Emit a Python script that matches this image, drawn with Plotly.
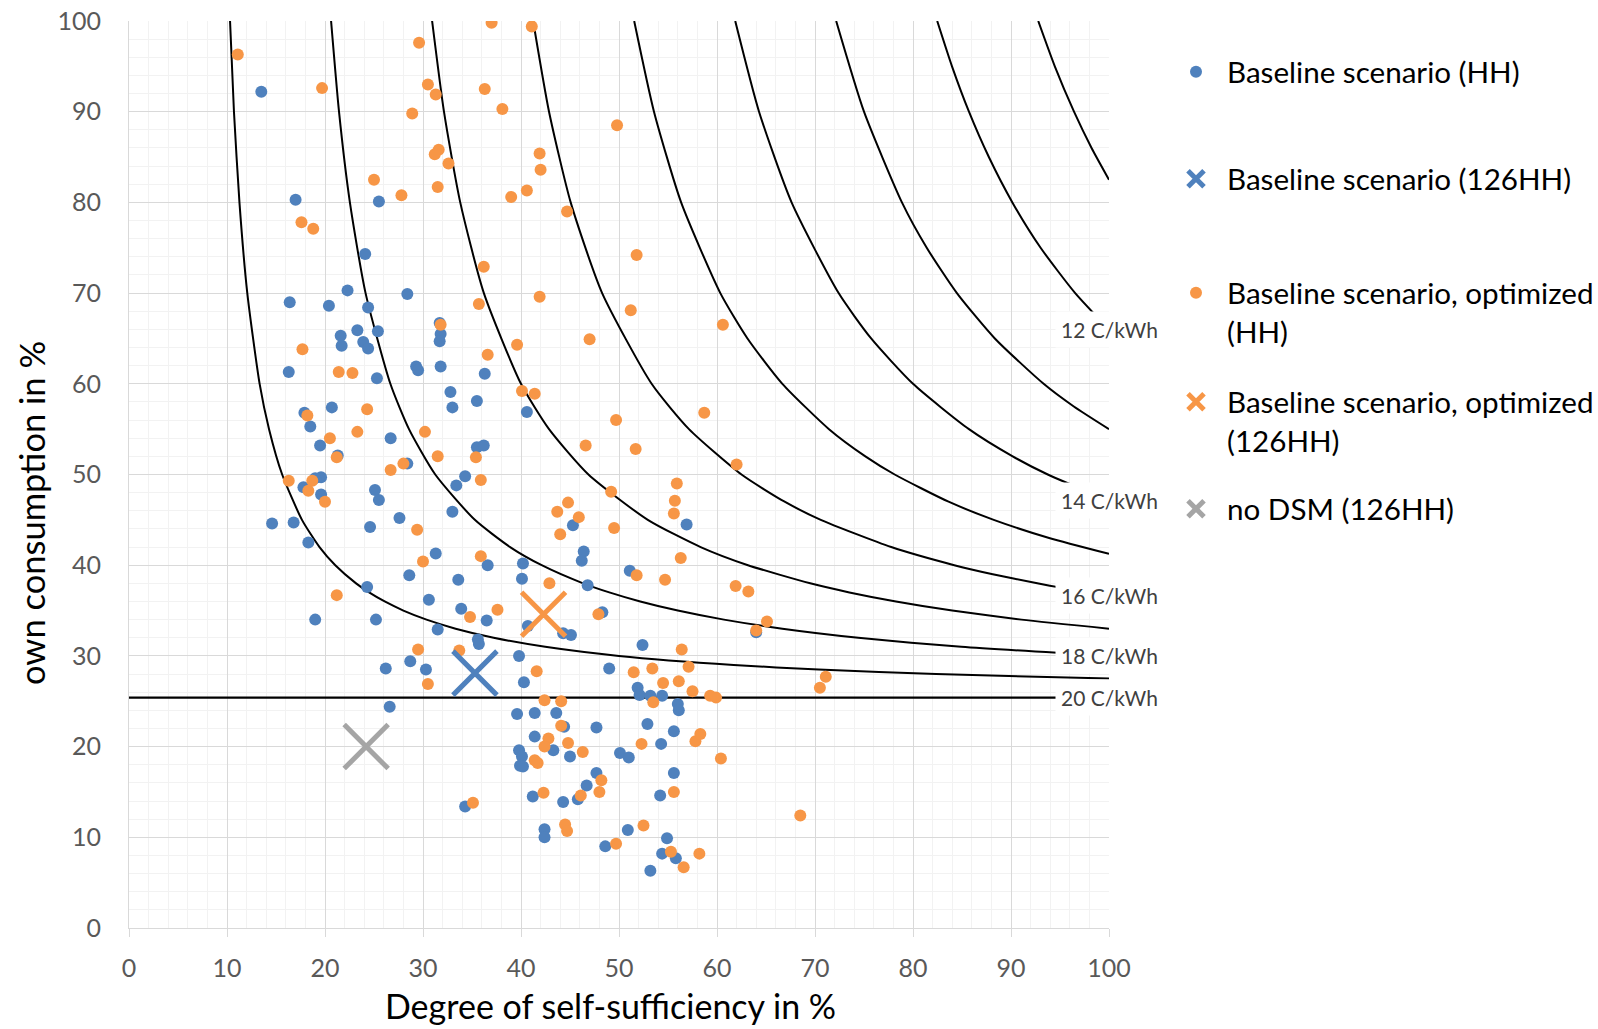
import plotly.graph_objects as go

# ---------------- data ----------------
# Baseline scenario (HH)  -- blue dots
base_hh_x = [13.5, 17.0, 25.5, 24.1, 22.3, 16.4, 28.4,
             20.4, 24.4, 21.6, 21.7, 23.3, 25.4, 23.9, 24.4, 31.7, 31.8, 31.7,
             16.3, 25.3, 29.3, 29.5, 31.8, 20.7, 17.9, 18.5, 26.7, 19.5, 21.3,
             28.4, 17.8, 19.6, 19.0, 19.6, 25.1, 25.5, 14.6, 16.8, 24.6, 27.6,
             18.3, 31.3,
             36.3, 32.8, 35.5, 33.0, 40.6, 35.5, 36.2, 34.3, 33.4, 33.0, 45.3,
             56.9, 46.4, 46.2, 36.6, 40.2,
             51.1, 33.6, 40.1, 46.8, 30.6, 33.9, 36.5, 31.5, 35.6, 35.7, 40.7,
             44.3, 45.1, 48.3, 52.4, 39.8, 30.3, 40.3, 49.0, 51.9, 52.1, 53.2,
             54.4, 56.0, 56.1, 39.6, 41.4, 43.6, 44.4, 47.7, 52.9, 55.6, 41.4,
             43.3, 54.3, 39.8, 50.1, 51.0, 45.0,
             40.1, 39.9, 40.2, 47.7, 46.7, 45.8, 44.3, 41.2, 55.6, 54.2, 34.3,
             42.4, 42.4, 50.9, 48.6, 54.9, 54.4, 55.8, 53.2,
             28.6, 24.3, 19.0, 25.2, 28.7, 26.2, 26.6, 64.0]
base_hh_y = [92.2, 80.3, 80.1, 74.3, 70.3, 69.0, 69.9,
             68.6, 68.4, 65.3, 64.2, 65.9, 65.8, 64.6, 63.9, 66.7, 65.5, 64.7,
             61.3, 60.6, 61.9, 61.5, 61.9, 57.4, 56.8, 55.3, 54.0, 53.2, 52.1,
             51.2, 48.6, 49.7, 49.6, 47.8, 48.3, 47.2, 44.6, 44.7, 44.2, 45.2,
             42.5, 41.3,
             61.1, 59.1, 58.1, 57.4, 56.9, 53.0, 53.2, 49.8, 48.8, 45.9, 44.4,
             44.5, 41.5, 40.5, 40.0, 40.2,
             39.4, 38.4, 38.5, 37.8, 36.2, 35.2, 33.9, 32.9, 31.8, 31.3, 33.3,
             32.5, 32.3, 34.8, 31.2, 30.0, 28.5, 27.1, 28.6, 26.5, 25.7, 25.6,
             25.6, 24.7, 24.0, 23.6, 23.7, 23.7, 22.2, 22.1, 22.5, 21.7, 21.1,
             19.6, 20.3, 19.6, 19.3, 18.8, 18.9,
             18.9, 17.9, 17.8, 17.1, 15.7, 14.2, 13.9, 14.5, 17.1, 14.6, 13.4,
             10.9, 10.0, 10.8, 9.0, 9.9, 8.2, 7.7, 6.3,
             38.9, 37.6, 34.0, 34.0, 29.4, 28.6, 24.4, 32.6]

# Baseline scenario, optimized (HH) -- orange dots
opt_hh_x = [11.1, 19.7, 29.6, 37.0, 41.1, 30.5, 31.3, 36.3, 38.1, 28.9, 31.6,
            31.2, 32.6, 41.9, 42.0, 25.0, 27.8, 31.5, 39.0, 40.6, 44.7, 17.6,
            18.8, 36.2, 41.9, 35.7,
            49.8, 51.8, 51.2, 60.6,
            31.8, 17.7, 21.4, 22.8, 24.3, 18.2, 20.5, 23.3, 30.2, 21.2, 31.5,
            28.0, 26.7, 16.3, 18.7, 18.3, 20.0, 29.4, 30.0,
            39.6, 47.0, 36.6, 40.1, 41.4, 49.7, 58.7, 35.4, 46.6, 51.7, 62.0,
            35.9, 49.2, 55.9, 55.7, 55.6, 44.8, 43.7, 45.9, 44.0, 49.5, 35.9,
            56.3,
            42.9, 51.8, 54.7, 61.9, 34.8, 37.6, 47.9, 56.4, 33.7, 29.5, 30.5,
            41.6, 51.5, 53.4, 57.1, 56.1, 54.5, 57.5, 53.5, 59.3, 59.9, 42.4,
            44.1, 44.1, 42.8, 42.4, 44.8, 46.3, 52.3, 57.8, 58.3, 60.4,
            41.4, 41.7, 48.2, 48.0, 46.1, 42.3, 55.6, 35.1, 44.5, 44.7, 52.5,
            49.7, 55.3, 58.2, 56.6,
            21.2, 63.2, 65.1, 64.0, 71.1, 70.5, 68.5]
opt_hh_y = [96.3, 92.6, 97.6, 99.8, 99.4, 93.0, 91.9, 92.5, 90.3, 89.8, 85.8,
            85.3, 84.3, 85.4, 83.6, 82.5, 80.8, 81.7, 80.6, 81.3, 79.0, 77.8,
            77.1, 72.9, 69.6, 68.8,
            88.5, 74.2, 68.1, 66.5,
            66.5, 63.8, 61.3, 61.2, 57.2, 56.5, 54.0, 54.7, 54.7, 51.9, 52.0,
            51.2, 50.5, 49.3, 49.3, 48.2, 47.0, 43.9, 40.4,
            64.3, 64.9, 63.2, 59.2, 58.9, 56.0, 56.8, 51.9, 53.2, 52.8, 51.1,
            49.4, 48.1, 49.0, 47.1, 45.7, 46.9, 45.9, 45.3, 43.4, 44.1, 41.0,
            40.8,
            38.0, 38.9, 38.4, 37.7, 34.3, 35.1, 34.6, 30.7, 30.6, 30.7, 26.9,
            28.3, 28.2, 28.6, 28.8, 27.2, 27.0, 26.1, 24.9, 25.6, 25.4, 25.1,
            25.0, 22.3, 20.9, 20.0, 20.4, 19.4, 20.3, 20.6, 21.4, 18.7,
            18.5, 18.2, 16.3, 15.0, 14.6, 14.9, 15.0, 13.8, 11.4, 10.7, 11.3,
            9.3, 8.4, 8.2, 6.7,
            36.7, 37.1, 33.8, 32.8, 27.7, 26.5, 12.4]

# Aggregated results (126 households)
base_126_x, base_126_y = [35.3], [28.1]
opt_126_x, opt_126_y = [42.3], [34.6]
nodsm_126_x, nodsm_126_y = [24.2], [20.0]

# Iso-cost curves (C/kWh)
iso_19_x = [10.31, 10.71, 11.27, 12.07, 13.33, 14.29, 15.63, 17.65, 19.44, 21.05, 23.17,
            24.50, 26.09, 28.00, 30.36, 33.33, 37.21, 42.47, 50.00, 61.70, 70.37, 82.35, 100.0]
iso_19_y = [100, 90, 80, 70, 60, 55, 50, 45, 42, 40, 38, 37, 36, 35, 34, 33, 32, 31, 30,
            29, 28.5, 28, 27.5]
iso_18_x = [20.62, 21.43, 22.54, 24.14, 26.67, 28.57, 31.25, 35.29, 38.89, 42.11, 46.34,
            49.01, 52.17, 56.00, 60.71, 66.67, 74.42, 84.93, 100.0]
iso_18_y = [100, 90, 80, 70, 60, 55, 50, 45, 42, 40, 38, 37, 36, 35, 34, 33, 32, 31, 30]
iso_17_x = [30.93, 32.14, 33.80, 36.21, 40.00, 42.86, 46.88, 52.94, 58.33, 63.16, 69.51,
            73.51, 78.26, 84.00, 91.07, 100.0]
iso_17_y = [100, 90, 80, 70, 60, 55, 50, 45, 42, 40, 38, 37, 36, 35, 34, 33]
iso_16_x = [41.24, 42.86, 45.07, 48.28, 53.33, 57.14, 62.50, 66.90, 70.59, 77.78, 84.21,
            88.14, 92.68, 95.24, 100.0]
iso_16_y = [100, 90, 80, 70, 60, 55, 50, 47, 45, 42, 40, 39, 38, 37.5, 36.67]
iso_15_x = [51.55, 53.57, 56.34, 60.34, 63.11, 66.67, 71.43, 75.14, 78.13, 83.63, 88.24,
            93.89, 100.0]
iso_15_y = [100, 90, 80, 70, 65, 60, 55, 52, 50, 47, 45, 43, 41.25]
iso_14_x = [61.86, 64.29, 67.61, 72.41, 75.73, 80.00, 85.71, 90.17, 93.75, 100.0]
iso_14_y = [100, 90, 80, 70, 65, 60, 55, 52, 50, 47.14]
iso_13_x = [72.16, 75.00, 78.87, 81.40, 84.48, 88.35, 93.33, 96.41, 100.0]
iso_13_y = [100, 90, 80, 75, 70, 65, 60, 57.5, 55]
iso_12_x = [82.47, 83.98, 85.71, 87.74, 90.14, 93.02, 96.55, 100.0]
iso_12_y = [100, 95, 90, 85, 80, 75, 70, 66]
iso_11_x = [92.78, 94.47, 96.43, 98.22, 100.0]
iso_11_y = [100, 95, 90, 86, 82.5]
iso_20_x = [0, 100]
iso_20_y = [25.4, 25.4]

label_texts = ["12 C/kWh", "14 C/kWh", "16 C/kWh", "18 C/kWh", "20 C/kWh"]
label_y = [66.0, 47.14, 36.67, 30.0, 25.4]

legend_names = ["Baseline scenario (HH)", "Baseline scenario (126HH)",
                "Baseline scenario, optimized<br>(HH)",
                "Baseline scenario, optimized<br>(126HH)", "no DSM (126HH)"]

x_title = "Degree of self-sufficiency in %"
y_title = "own consumption in %"

# ---------------- styling ----------------
BLUE = "#4F81BD"
ORANGE = "#F79646"
GREY = "#A5A5A5"
FONT = "Lato"

fig = go.Figure()

curves = [(iso_19_x, iso_19_y), (iso_18_x, iso_18_y), (iso_17_x, iso_17_y),
          (iso_16_x, iso_16_y), (iso_15_x, iso_15_y), (iso_14_x, iso_14_y),
          (iso_13_x, iso_13_y), (iso_12_x, iso_12_y), (iso_11_x, iso_11_y)]
for cx, cy in curves:
    fig.add_trace(go.Scatter(x=cx, y=cy, mode="lines",
                             line=dict(color="black", width=2, shape="spline", smoothing=0.6),
                             showlegend=False, hoverinfo="skip", cliponaxis=True))
fig.add_trace(go.Scatter(x=iso_20_x, y=iso_20_y, mode="lines",
                         line=dict(color="black", width=2.2),
                         showlegend=False, hoverinfo="skip"))

fig.add_trace(go.Scatter(x=base_hh_x, y=base_hh_y, mode="markers", name=legend_names[0],
                         marker=dict(color=BLUE, size=12), legend="legend"))
fig.add_trace(go.Scatter(x=opt_hh_x, y=opt_hh_y, mode="markers", name=legend_names[2],
                         marker=dict(color=ORANGE, size=12), legend="legend3"))
for xs, ys, col, nm, lg in [(base_126_x, base_126_y, BLUE, legend_names[1], "legend2"),
                            (opt_126_x, opt_126_y, ORANGE, legend_names[3], "legend4"),
                            (nodsm_126_x, nodsm_126_y, GREY, legend_names[4], "legend5")]:
    fig.add_trace(go.Scatter(x=xs, y=ys, mode="markers", name=nm, legend=lg,
                             marker=dict(symbol="x-thin", size=44, color=col,
                                         line=dict(color=col, width=5))))

for t, yv in zip(label_texts, label_y):
    fig.add_annotation(x=100, y=yv, xref="x", yref="y", text=t, showarrow=False,
                       xanchor="center", yanchor="middle",
                       font=dict(family=FONT, size=21, color="#404040"),
                       bgcolor="white", borderpad=5)

PLOT_L, PLOT_R, PLOT_T, PLOT_B = 129, 1109, 21, 928
W, H = 1598, 1029


def px_to_paper(px, py):
    return (px - PLOT_L) / (PLOT_R - PLOT_L), (PLOT_B - py) / (PLOT_B - PLOT_T)


# axis titles placed as annotations (offset like the original chart)
tx, ty = px_to_paper(610, 1005)
fig.add_annotation(x=tx, y=ty, xref="paper", yref="paper", text=x_title, showarrow=False,
                   xanchor="center", yanchor="middle",
                   font=dict(family=FONT, size=34, color="black"))
tx, ty = px_to_paper(31, 513)
fig.add_annotation(x=tx, y=ty, xref="paper", yref="paper", text=y_title, showarrow=False,
                   xanchor="center", yanchor="middle", textangle=-90,
                   font=dict(family=FONT, size=34.5, color="black"))

leg_font = dict(family=FONT, size=29.6, color="black")
leg_centers = [72, 179, 312, 421, 509]
legends = {}
for i, cy in enumerate(leg_centers):
    lx, ly = px_to_paper(1165, cy)
    key = "legend" if i == 0 else f"legend{i + 1}"
    legends[key] = dict(x=lx, y=ly, xanchor="left", yanchor="middle",
                        font=leg_font, bgcolor="rgba(0,0,0,0)", valign="top",
                        borderwidth=0, itemwidth=52)

axis_common = dict(range=[0, 100], dtick=10, tick0=0, showgrid=True, automargin=False,
                   gridcolor="#D9D9D9", gridwidth=1, zeroline=False,
                   showline=True, linecolor="#D9D9D9", linewidth=1,
                   tickfont=dict(family=FONT, size=25, color="#595959"),
                   minor=dict(dtick=2, showgrid=True, gridcolor="#F2F2F2", gridwidth=1))

fig.update_layout(
    width=W, height=H,
    margin=dict(l=PLOT_L, r=W - PLOT_R, t=PLOT_T, b=H - PLOT_B, pad=0, autoexpand=False),
    paper_bgcolor="white", plot_bgcolor="white",
    font=dict(family=FONT),
    xaxis=dict(**axis_common, ticks="outside", ticklen=8, tickcolor="#D9D9D9",
               ticklabelstandoff=10),
    yaxis=dict(**axis_common, ticks="", ticklabelstandoff=22),
    **legends,
)

fig.write_html("out.html")
